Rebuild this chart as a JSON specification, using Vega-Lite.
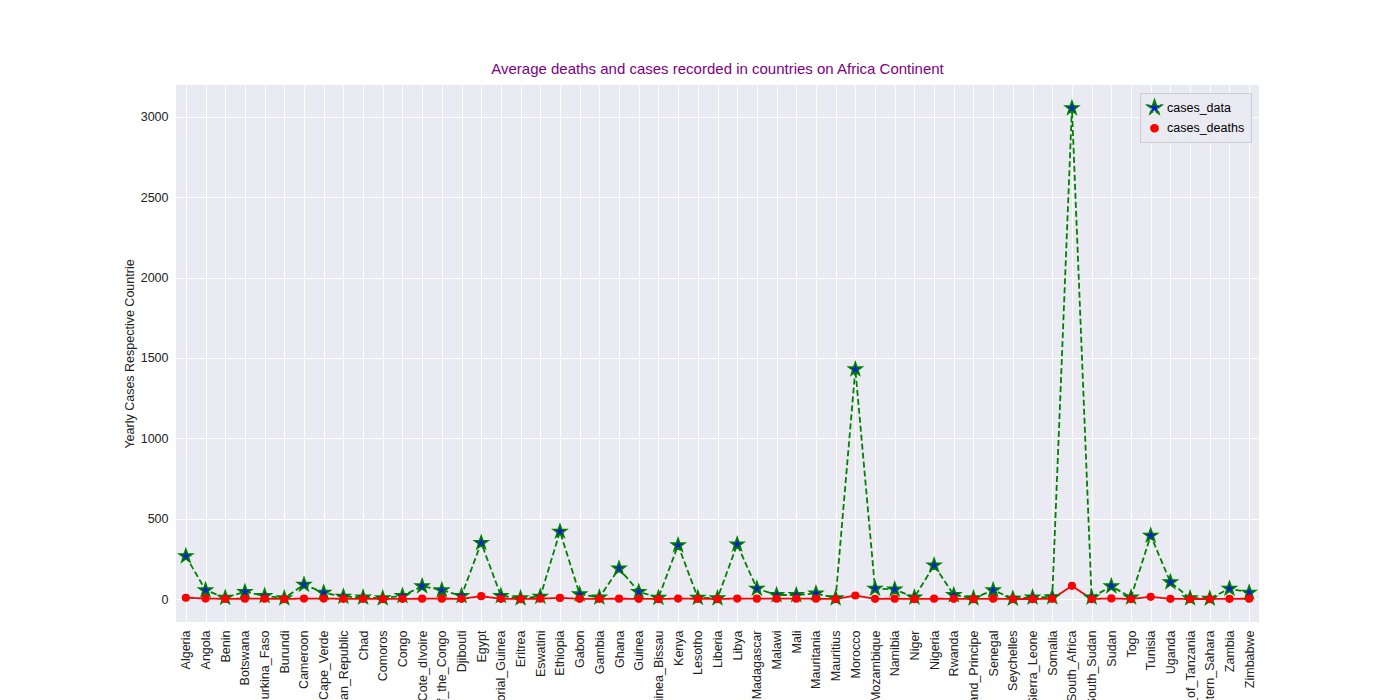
{
  "$schema": "https://vega.github.io/schema/vega-lite/v6.json",
  "autosize": "none",
  "width": 1083,
  "height": 537,
  "padding": {"left": 176, "top": 85, "right": 141, "bottom": 78},
  "background": "white",
  "title": {"text": "Average deaths and cases recorded in countries on Africa Continent", "color": "purple", "fontSize": 15, "fontWeight": "normal", "font": "Liberation Sans", "offset": 8},
  "data": {
    "values": [
      {"country": "Algeria", "cases_data": 267, "cases_deaths": 8},
      {"country": "Angola", "cases_data": 55, "cases_deaths": 3},
      {"country": "Benin", "cases_data": 8, "cases_deaths": 1},
      {"country": "Botswana", "cases_data": 45, "cases_deaths": 2},
      {"country": "Burkina_Faso", "cases_data": 20, "cases_deaths": 2},
      {"country": "Burundi", "cases_data": 5, "cases_deaths": 0},
      {"country": "Cameroon", "cases_data": 90, "cases_deaths": 3},
      {"country": "Cape_Verde", "cases_data": 40, "cases_deaths": 3},
      {"country": "Central_African_Republic", "cases_data": 15, "cases_deaths": 1},
      {"country": "Chad", "cases_data": 10, "cases_deaths": 1},
      {"country": "Comoros", "cases_data": 5, "cases_deaths": 0},
      {"country": "Congo", "cases_data": 20, "cases_deaths": 1},
      {"country": "Cote_dIvoire", "cases_data": 80, "cases_deaths": 2},
      {"country": "Democratic_Republic_of_the_Congo", "cases_data": 55, "cases_deaths": 2},
      {"country": "Djibouti", "cases_data": 20, "cases_deaths": 1},
      {"country": "Egypt", "cases_data": 350, "cases_deaths": 18},
      {"country": "Equatorial_Guinea", "cases_data": 20, "cases_deaths": 1},
      {"country": "Eritrea", "cases_data": 5, "cases_deaths": 0},
      {"country": "Eswatini", "cases_data": 15, "cases_deaths": 2},
      {"country": "Ethiopia", "cases_data": 420, "cases_deaths": 7},
      {"country": "Gabon", "cases_data": 30, "cases_deaths": 1},
      {"country": "Gambia", "cases_data": 10, "cases_deaths": 1},
      {"country": "Ghana", "cases_data": 190, "cases_deaths": 2},
      {"country": "Guinea", "cases_data": 45, "cases_deaths": 1},
      {"country": "Guinea_Bissau", "cases_data": 8, "cases_deaths": 0},
      {"country": "Kenya", "cases_data": 335, "cases_deaths": 3},
      {"country": "Lesotho", "cases_data": 8, "cases_deaths": 1},
      {"country": "Liberia", "cases_data": 5, "cases_deaths": 0},
      {"country": "Libya", "cases_data": 340, "cases_deaths": 3},
      {"country": "Madagascar", "cases_data": 65, "cases_deaths": 2},
      {"country": "Malawi", "cases_data": 25, "cases_deaths": 2},
      {"country": "Mali", "cases_data": 25, "cases_deaths": 2},
      {"country": "Mauritania", "cases_data": 35, "cases_deaths": 2},
      {"country": "Mauritius", "cases_data": 5, "cases_deaths": 0},
      {"country": "Morocco", "cases_data": 1430, "cases_deaths": 22},
      {"country": "Mozambique", "cases_data": 65, "cases_deaths": 1},
      {"country": "Namibia", "cases_data": 60, "cases_deaths": 2},
      {"country": "Niger", "cases_data": 10, "cases_deaths": 0},
      {"country": "Nigeria", "cases_data": 210, "cases_deaths": 2},
      {"country": "Rwanda", "cases_data": 25, "cases_deaths": 1},
      {"country": "Sao_Tome_and_Principe", "cases_data": 5, "cases_deaths": 0},
      {"country": "Senegal", "cases_data": 55, "cases_deaths": 2},
      {"country": "Seychelles", "cases_data": 3, "cases_deaths": 0},
      {"country": "Sierra_Leone", "cases_data": 10, "cases_deaths": 0},
      {"country": "Somalia", "cases_data": 12, "cases_deaths": 1},
      {"country": "South_Africa", "cases_data": 3055, "cases_deaths": 82},
      {"country": "South_Sudan", "cases_data": 10, "cases_deaths": 0},
      {"country": "Sudan", "cases_data": 80, "cases_deaths": 4},
      {"country": "Togo", "cases_data": 10, "cases_deaths": 0},
      {"country": "Tunisia", "cases_data": 395, "cases_deaths": 14},
      {"country": "Uganda", "cases_data": 105, "cases_deaths": 1},
      {"country": "United_Republic_of_Tanzania", "cases_data": 5, "cases_deaths": 0},
      {"country": "Western_Sahara", "cases_data": 3, "cases_deaths": 0},
      {"country": "Zambia", "cases_data": 65, "cases_deaths": 1},
      {"country": "Zimbabwe", "cases_data": 40, "cases_deaths": 2}
    ]
  },
  "transform": [{"fold": ["cases_data", "cases_deaths"], "as": ["series", "value"]}],
  "encoding": {
    "x": {"field": "country", "type": "nominal", "sort": null, "title": null,
      "scale": {"type": "point", "paddingOuter": 2.6},
      "axis": {"labelAngle": -90, "labelFontSize": 12.5, "labelColor": "#222", "grid": true, "ticks": false, "domain": false, "labelPadding": 8, "labelOverlap": false, "labelLimit": 300}},
    "y": {"field": "value", "type": "quantitative", "title": "Yearly Cases Respective Countrie",
      "scale": {"domain": [-143, 3199], "nice": false, "zero": false},
      "axis": {"values": [0, 500, 1000, 1500, 2000, 2500, 3000], "format": "d", "labelFontSize": 12.5, "labelColor": "#222", "titleFontSize": 12.5, "titleFontWeight": "normal", "titleColor": "#222", "ticks": false, "domain": false, "labelPadding": 8}},
    "color": {"field": "series", "type": "nominal", "title": null,
      "scale": {"domain": ["cases_data", "cases_deaths"], "range": ["green", "red"]},
      "legend": {"orient": "top-right", "offset": 8, "fillColor": "#EAEAF2", "strokeColor": "#ccc", "padding": 6, "labelFontSize": 12.5, "symbolStrokeWidth": 2}}
  },
  "layer": [
    {
      "mark": {"type": "line", "strokeWidth": 1.8},
      "encoding": {
        "strokeDash": {"field": "series", "type": "nominal", "title": null,
          "scale": {"domain": ["cases_data", "cases_deaths"], "range": [[6, 3], [1, 0]]}}
      }
    },
    {
      "mark": {"type": "point", "filled": true, "strokeWidth": 1.5, "opacity": 1},
      "encoding": {
        "shape": {"field": "series", "type": "nominal", "title": null,
          "scale": {"domain": ["cases_data", "cases_deaths"], "range": ["M0,-1L0.235,-0.324L0.951,-0.309L0.38,0.124L0.588,0.809L0,0.4L-0.588,0.809L-0.38,0.124L-0.951,-0.309L-0.235,-0.324Z", "circle"]}},
        "size": {"field": "series", "type": "nominal", "legend": null,
          "scale": {"domain": ["cases_data", "cases_deaths"], "range": [200, 45]}},
        "fill": {"field": "series", "type": "nominal", "legend": null,
          "scale": {"domain": ["cases_data", "cases_deaths"], "range": ["#0022cc", "red"]}},
        "stroke": {"field": "series", "type": "nominal", "legend": null,
          "scale": {"domain": ["cases_data", "cases_deaths"], "range": ["green", "red"]}}
      }
    }
  ],
  "config": {
    "font": "Liberation Sans",
    "view": {"fill": "#EAEAF2", "stroke": null},
    "axis": {"gridColor": "white", "gridWidth": 1}
  }
}
